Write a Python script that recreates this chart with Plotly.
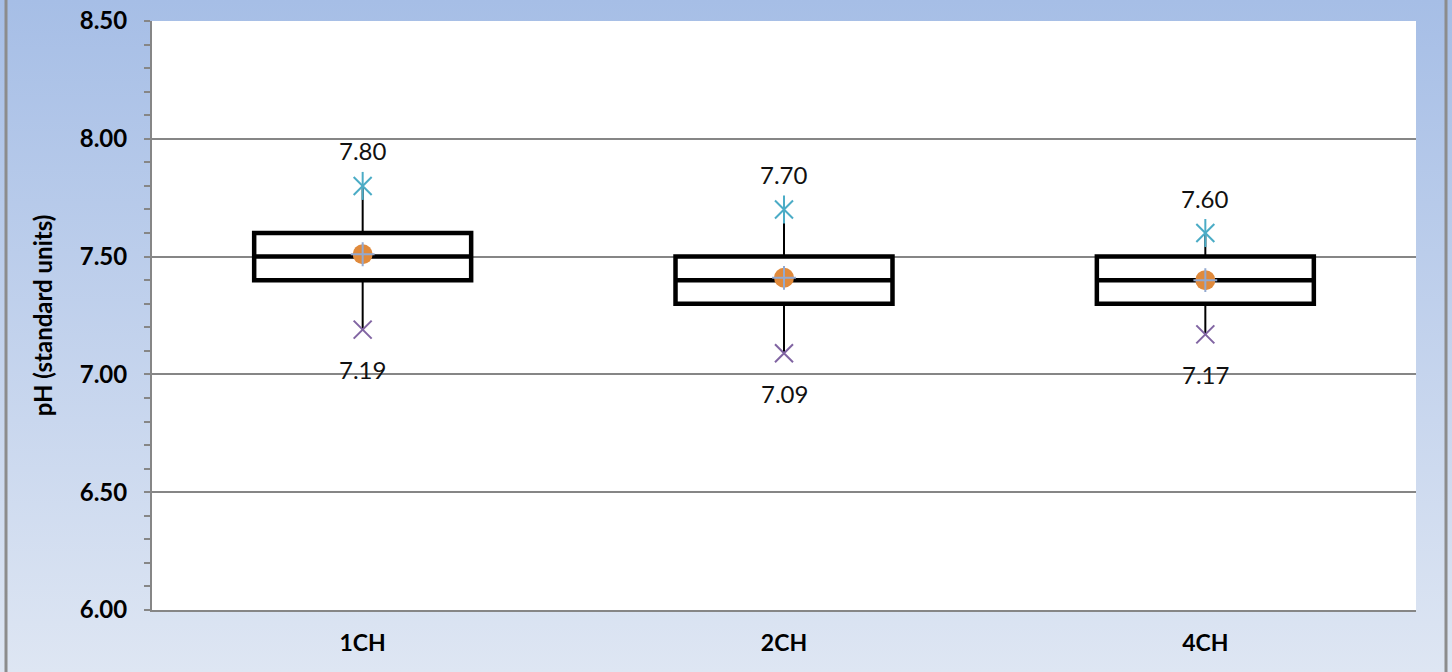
import base64
import plotly.graph_objects as go

# ---- data ----
categories = ["1CH", "2CH", "4CH"]
q1_vals = [7.40, 7.30, 7.30]
median_vals = [7.50, 7.40, 7.40]
q3_vals = [7.60, 7.50, 7.50]
max_vals = [7.80, 7.70, 7.60]
min_vals = [7.19, 7.09, 7.17]
mean_vals = [7.51, 7.41, 7.40]
y_ticks = [6.00, 6.50, 7.00, 7.50, 8.00, 8.50]

W, H = 1452, 672
ML, MR, MT, MB = 152, 36, 21, 62
PW, PH = W - ML - MR, H - MT - MB

FONT = "Lato, 'Open Sans', sans-serif"
xpos = list(range(len(categories)))

fig = go.Figure()

# boxes (no whiskers from the box trace itself)
for i, c in enumerate(categories):
    fig.add_trace(go.Box(
        x=[xpos[i]], q1=[q1_vals[i]], median=[median_vals[i]], q3=[q3_vals[i]],
        lowerfence=[q1_vals[i]], upperfence=[q3_vals[i]],
        width=0.515, whiskerwidth=0, boxpoints=False,
        line=dict(color="black", width=4.5), fillcolor="rgba(0,0,0,0)",
        showlegend=False, hoverinfo="skip"))

# whiskers
wx, wy = [], []
for i in range(len(categories)):
    wx += [xpos[i], xpos[i], None, xpos[i], xpos[i], None]
    wy += [q3_vals[i], max_vals[i], None, q1_vals[i], min_vals[i], None]
fig.add_trace(go.Scatter(x=wx, y=wy, mode="lines", line=dict(color="black", width=2),
                         showlegend=False, hoverinfo="skip"))

# max markers: X with vertical bar (Excel star)
TEAL = "#4BACC6"
fig.add_trace(go.Scatter(x=xpos, y=max_vals, mode="markers",
                         marker=dict(symbol="x-thin-open", size=18, color=TEAL,
                                     line=dict(color=TEAL, width=2)), showlegend=False))
fig.add_trace(go.Scatter(x=xpos, y=max_vals, mode="markers",
                         marker=dict(symbol="line-ns-open", size=20, color=TEAL,
                                     line=dict(color=TEAL, width=2)), showlegend=False))
# min markers
fig.add_trace(go.Scatter(x=xpos, y=min_vals, mode="markers",
                         marker=dict(symbol="x-thin-open", size=18, color="#8064A2",
                                     line=dict(color="#8064A2", width=2)), showlegend=False))
# mean markers
fig.add_trace(go.Scatter(x=xpos, y=mean_vals, mode="markers",
                         marker=dict(symbol="circle", size=20, color="#E08A3C",
                                     line=dict(width=0)), showlegend=False))
fig.add_trace(go.Scatter(x=xpos, y=mean_vals, mode="markers",
                         marker=dict(symbol="cross-thin-open", size=17, color="#93A9D0",
                                     line=dict(color="#93A9D0", width=2)), showlegend=False))

# labels
for i in range(len(categories)):
    fig.add_annotation(x=xpos[i], y=max_vals[i], text=f"{max_vals[i]:.2f}", showarrow=False,
                       yshift=35, font=dict(family=FONT, size=24, color="#111"))
    fig.add_annotation(x=xpos[i], y=min_vals[i], text=f"{min_vals[i]:.2f}", showarrow=False,
                       yshift=-40, font=dict(family=FONT, size=24, color="#111"))

# gradient background
svg = ('<svg xmlns="http://www.w3.org/2000/svg" width="100" height="100" preserveAspectRatio="none">'
       '<defs><linearGradient id="g" x1="0" y1="0" x2="0" y2="1">'
       '<stop offset="0" stop-color="#A6BEE6"/><stop offset="1" stop-color="#DEE6F3"/>'
       '</linearGradient></defs><rect width="100" height="100" fill="url(#g)"/></svg>')
src = "data:image/svg+xml;base64," + base64.b64encode(svg.encode()).decode()
x0p, x1p = -ML / PW, 1 + MR / PW
y0p, y1p = -MB / PH, 1 + MT / PH
fig.add_layout_image(source=src, xref="paper", yref="paper", x=x0p, y=y1p,
                     sizex=x1p - x0p, sizey=y1p - y0p, sizing="stretch",
                     xanchor="left", yanchor="top", layer="below")
fig.add_shape(type="rect", xref="paper", yref="paper", x0=0, x1=1, y0=0, y1=1,
              fillcolor="white", line=dict(width=0), layer="below")
# outer frame lines
for px in (6, 1446):
    xp = (px - ML) / PW
    fig.add_shape(type="line", xref="paper", yref="paper", x0=xp, x1=xp, y0=y0p, y1=y1p,
                  line=dict(color="#8C8C8C", width=3), layer="above")

fig.update_layout(
    width=W, height=H, margin=dict(l=ML, r=MR, t=MT, b=MB, autoexpand=False),
    paper_bgcolor="#C8D6EE", plot_bgcolor="white",
    showlegend=False,
)
fig.update_xaxes(range=[-0.5, 2.5], tickvals=xpos, ticktext=categories, automargin=False,
                 showgrid=False, zeroline=False, showline=True, linecolor="#868686", linewidth=2,
                 ticks="", ticklabelstandoff=11,
                 tickfont=dict(family=FONT, size=23, color="black", weight="bold"))
fig.update_yaxes(range=[6, 8.5], tickvals=y_ticks, ticktext=[f"{v:.2f}" for v in y_ticks],
                 automargin=False,
                 showgrid=True, gridcolor="#868686", gridwidth=1.5, zeroline=False,
                 showline=True, linecolor="#868686", linewidth=2,
                 ticks="outside", ticklen=6, tickcolor="#868686", tickwidth=1.5,
                 minor=dict(dtick=0.1, ticks="outside", ticklen=6, tickcolor="#868686",
                            tickwidth=1.5, showgrid=False),
                 ticklabelstandoff=12,
                 tickfont=dict(family=FONT, size=24, color="black", weight="bold"),
                 title=dict(text="pH (standard units)", standoff=20,
                            font=dict(family=FONT, size=24, color="black", weight="bold")))

fig.write_html("out.html", config={"displayModeBar": False},
               post_script="document.body.style.margin='0';document.body.style.overflow='hidden';")
